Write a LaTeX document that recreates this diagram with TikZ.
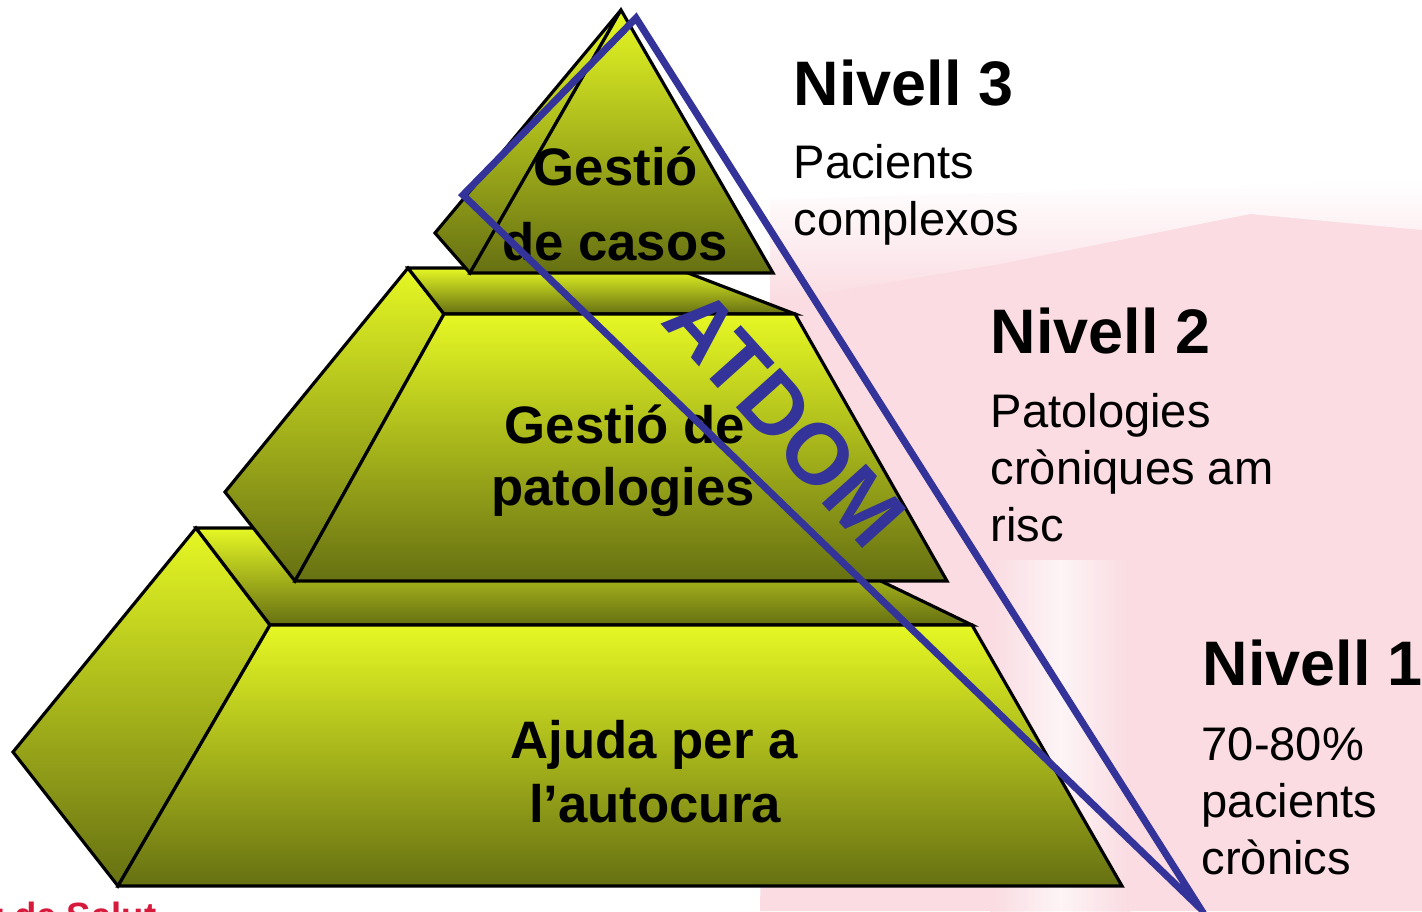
\documentclass[tikz,border=0pt]{standalone}
\usepackage{fontspec}
\setmainfont{Liberation Sans}
\definecolor{pyrlight}{RGB}{230,248,36}
\definecolor{pyrdark}{RGB}{102,112,18}
\definecolor{atdomblue}{RGB}{51,51,153}
\definecolor{wmpink}{RGB}{250,220,226}
\definecolor{salutred}{RGB}{215,25,60}
\tikzset{
  face/.style={draw=black, line width=0.9pt, line join=miter, top color=pyrlight, bottom color=pyrdark},
  levelhead/.style={font=\fontsize{17.9}{21}\selectfont\bfseries, anchor=base west, inner sep=0pt},
  levelnote/.style={font=\fontsize{13.4}{16}\selectfont, anchor=base west, inner sep=0pt},
  tiertext/.style={font=\fontsize{15}{18}\selectfont\bfseries, anchor=base, inner sep=0pt},
  atdomline/.style={draw=atdomblue, line width=2pt},
  atdomtext/.style={font=\fontsize{24.5}{28}\selectfont\bfseries, text=atdomblue, inner sep=0pt}
}
\begin{document}
\begin{tikzpicture}[x=0.1mm, y=-0.1mm]
    \useasboundingbox (0,0) rectangle (1422,911);

    % Watermark
    \fill[wmpink] (770,300) -- (1000,262) -- (1250,212) -- (1422,228) -- (1422,911) -- (760,911) -- cycle;
    \shade[top color=white, bottom color=wmpink] (770,200) -- (1422,180) -- (1422,230) -- (1250,214) -- (1000,264) -- (770,302) -- cycle;
    \shade[left color=wmpink, right color=white, opacity=0.7] (990,560) rectangle (1060,911);
    \shade[left color=white, right color=wmpink, opacity=0.7] (1060,560) rectangle (1130,911);

    % Bottom tier
    \path[face] (196,528) -- (13,752) -- (118,886) -- (270,625) -- cycle;
    \path[face] (196,528) -- (771,528) -- (972,625) -- (270,625) -- cycle;
    \path[face] (270,625) -- (972,625) -- (1122,886) -- (118,886) -- cycle;

    % Middle tier
    \path[face] (408,268) -- (225,492) -- (295,581) -- (444,314) -- cycle;
    \path[face] (408,268) -- (675,268) -- (795,314) -- (444,314) -- cycle;
    \path[face] (444,314) -- (795,314) -- (947,581) -- (295,581) -- cycle;

    % Top tier
    \path[face] (621,10) -- (435,233) -- (470,273) -- cycle;
    \path[face] (621,10) -- (773,273) -- (470,273) -- cycle;

    % Tier labels
    \node[tiertext] (casosa) at (616,185) {Gestió};
    \node[tiertext] (casosb) at (615,260) {de casos};
    \node[tiertext] (patola) at (625,443) {Gestió de};
    \node[tiertext] (patolb) at (623,505) {patologies};
    \node[tiertext] (autoa) at (654,758) {Ajuda per a};
    \node[tiertext] (autob) at (655,822) {l’autocura};

    % ATDOM wedge
    \coordinate (wedgeleft) at (463,195);
    \coordinate (wedgetop) at (636,18);
    \coordinate (wedgetip) at (1200,908);
    \draw[atdomline] (wedgeleft) -- (wedgetop) -- (wedgetip) -- cycle;
    \node[atdomtext, rotate=-48] (atdom) at (785,418) {ATDOM};

    % Levels
    \node[levelhead] (niv3) at (793,105) {Nivell 3};
    \foreach \t [count=\i] in {Pacients, complexos}
        \node[levelnote] (niv3l\i) at (793,{178+57*(\i-1)}) {\t};

    \node[levelhead] (niv2) at (990,353) {Nivell 2};
    \foreach \t [count=\i] in {Patologies, cròniques am, risc}
        \node[levelnote] (niv2l\i) at (990,{427+57*(\i-1)}) {\t};

    \node[levelhead] (niv1) at (1202,685) {Nivell 1};
    \foreach \t [count=\i] in {70-80\%, pacients, crònics}
        \node[levelnote] (niv1l\i) at (1201,{760+57*(\i-1)}) {\t};

    % Footer
    \node[font=\fontsize{10.4}{12}\selectfont\bfseries, text=salutred, anchor=base east, inner sep=0pt] (salut) at (157,928) {Departament de Salut};
\end{tikzpicture}
\end{document}
